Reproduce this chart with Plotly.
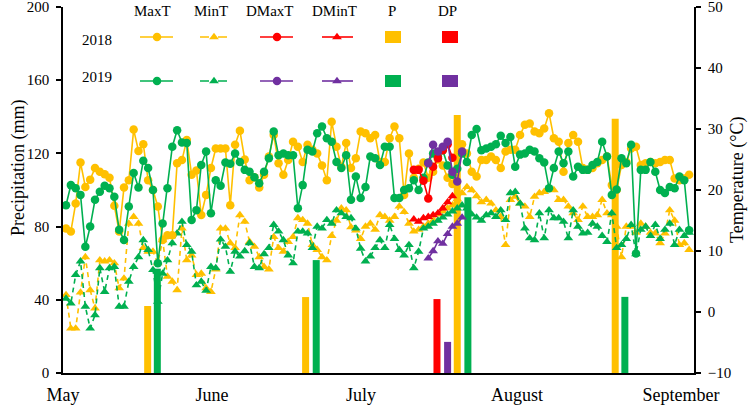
import plotly.graph_objects as go

# ---------------- data ----------------
days = list(range(1, 131))  # day index, May 1 = 1

max_2018 = [13.7, 13.2, 17.8, 24.5, 20.5, 21.7, 23.6, 23.0, 22.6, 22.0, 17.4, 13.2, 20.4, 21.6, 29.9, 26.4, 27.5, 21.6, 20.0, 17.3, 11.8,
            12.6, 12.6, 24.4, 24.9, 28.2, 22.5, 23.2, 15.9, 19.2, 23.6, 26.8, 26.8, 26.8, 17.5, 27.4, 29.7, 25.0, 21.6, 22.1, 20.4, 22.5, 25.5,
            29.0, 24.4, 22.5, 24.9, 27.9, 27.1, 24.6, 27.4, 26.6, 26.0, 24.0, 21.6, 31.2, 27.1, 23.8, 27.7, 23.6, 25.2, 29.6, 29.3, 28.5, 29.0,
            24.6, 24.6, 28.5, 30.4, 28.5, 19.2, 26.0, 22.0, 23.5, 24.5, 22.0, 23.0, 25.0, 24.0, 22.0, 21.0, 25.5, 27.5, 26.0, 23.0, 22.2, 24.9,
            24.9, 25.5, 24.9, 23.6, 26.3, 26.6, 26.6, 29.0, 30.7, 30.9, 29.6, 29.3, 30.1, 32.6, 28.5, 27.9, 23.0, 27.7, 29.0, 27.9, 23.6,
            23.3, 23.6, 24.4, 24.9, 25.5, 20.8, 20.0, 24.1, 24.6, 26.8, 27.1, 24.1, 24.4, 24.6, 24.4, 24.6, 24.9, 24.9, 21.9, 21.6, 21.9, 22.5]

min_2018 = [2.8, -2.7, -2.7, 3.2, 9.0, 3.6, 0.6, 8.5, 8.3, 8.5, 8.0, 3.9, 5.5, 14.5, 15.6, 14.5, 10.5, 9.9, 9.9, 8.0, 11.8,
            5.8, 5.0, 3.6, 13.7, 8.5, 9.3, 6.1, 6.3, 3.9, 3.3, 7.0, 13.7, 13.7, 11.3, 10.5, 15.9, 14.8, 11.5, 10.7, 9.0, 7.4, 7.0,
            12.3, 10.5, 9.9, 11.5, 12.3, 15.4, 15.1, 14.5, 11.0, 10.2, 9.0, 8.5, 12.5, 15.0, 17.0, 16.7, 13.9, 13.4, 12.0, 14.0, 14.5, 13.5,
            15.9, 15.6, 15.0, 15.6, 17.3, 16.4, 14.5, 13.2, 13.5, 14.0, 14.5, 15.0, 16.0, 16.5, 17.0, 17.5, 18.5, 19.5, 20.5, 20.0, 19.0, 18.0,
            18.4, 17.8, 16.7, 15.6, 11.0, 18.4, 18.9, 17.8, 17.3, 15.6, 18.9, 19.5, 19.7, 20.1, 20.0, 18.4, 18.4, 17.3, 16.2, 15.1, 17.3,
            15.6, 15.6, 15.9, 18.4, 16.2, 15.9, 14.0, 9.0, 14.0, 14.0, 13.0, 14.5, 14.0, 13.0, 12.9, 11.3, 12.9, 16.7, 15.0, 11.0, 11.3, 10.2]

max_2019 = [17.5, 20.8, 20.3, 19.2, 10.7, 14.0, 18.4, 19.7, 20.7, 20.3, 18.9, 13.5, 11.8, 17.3, 22.8, 20.4, 24.8, 23.6, 20.0, 8.0, 14.5,
            20.3, 27.1, 29.8, 27.8, 27.7, 15.1, 16.7, 24.1, 26.3, 16.2, 21.6, 20.7, 24.5, 24.3, 26.0, 24.6, 23.3, 23.0, 22.1, 21.1, 23.0, 25.2,
            29.6, 25.7, 26.0, 25.7, 25.7, 17.0, 20.8, 26.6, 26.3, 29.3, 30.4, 28.5, 27.9, 24.6, 23.6, 25.7, 18.4, 22.2, 18.7, 20.5, 25.5,
            25.2, 24.1, 27.1, 27.1, 18.7, 18.7, 20.0, 20.3, 21.6, 20.0, 22.0, 24.5, 26.0, 25.5, 26.5, 24.0, 22.5, 23.5, 26.0, 24.6, 29.0, 30.0, 26.5,
            26.8, 27.1, 27.5, 28.9, 27.7, 28.7, 23.8, 25.8, 26.0, 26.6, 26.3, 25.2, 24.5, 20.3, 23.6, 26.3, 24.4, 26.3, 22.2, 23.8, 23.3,
            23.3, 24.1, 24.6, 27.9, 25.5, 19.2, 20.1, 25.2, 24.4, 27.4, 9.6, 23.3, 23.3, 24.6, 23.0, 20.0, 19.5, 20.5, 20.3, 22.2, 21.6, 13.4]

min_2019 = [2.2, 1.4, 6.1, 8.3, 0.9, -2.7, -0.5, 7.2, 3.3, 7.2, 7.4, 0.9, 0.9, 5.0, 7.4, 9.0, 11.8, 10.2, 6.9, 1.7, 6.3,
            8.5, 11.3, 12.9, 14.8, 11.0, 9.9, 4.4, 5.0, 3.5, 7.4, 7.2, 11.9, 10.7, 6.6, 9.9, 9.1, 10.0, 11.3, 7.4, 7.2, 9.5, 10.5,
            14.3, 13.2, 11.8, 9.3, 8.0, 13.2, 13.2, 12.9, 10.5, 14.0, 13.7, 15.1, 14.5, 16.7, 16.2, 15.6, 15.4, 13.7, 10.4, 8.3, 9.1, 10.5,
            11.8, 10.5, 14.3, 12.0, 10.2, 9.3, 11.0, 7.2, 9.9, 13.7, 14.0, 14.5, 15.0, 15.5, 16.0, 16.5, 17.0, 17.5, 17.0, 16.0, 15.5, 15.0,
            15.9, 16.2, 15.6, 16.7, 15.1, 19.5, 19.7, 17.8, 13.7, 12.1, 11.8, 16.2, 12.1, 16.7, 15.4, 15.4, 14.8, 12.1, 16.7, 14.0, 12.9,
            13.0, 14.5, 14.0, 12.5, 11.5, 16.2, 10.5, 11.0, 12.0, 14.3, 9.5, 13.5, 14.0, 12.5, 14.3, 12.0, 13.5, 14.5, 11.0, 13.5, 12.5, 13.0]

d2018_days = [73, 74, 75, 76, 77, 78, 79, 80, 81]
dmax_2018 = [23.3, 23.3, 21.5, 18.6, 23.8, 25.2, 26.5, 27.5, 25.3]
dmin_2018 = [15.2, 14.8, 15.4, 15.6, 15.9, 16.2, 17.0, 18.0, 19.0]

d2019_days = [76, 77, 78, 79, 80, 81, 82, 83]
dmax_2019 = [24.4, 27.4, 26.3, 27.1, 27.9, 23.0, 21.4, 26.3]
dmin_2019 = [8.8, 10.0, 11.6, 11.2, 12.8, 14.0, 14.5, 15.5]

p2018_days = [17.9, 50.6, 82.0, 114.7]
p2018 = [36.6, 41.5, 141.0, 139.0]
p2019_days = [19.9, 52.8, 84.2, 116.7]
p2019 = [57.0, 61.7, 96.0, 41.6]
dp2018_days = [77.8]
dp2018 = [40.4]
dp2019_days = [80.0]
dp2019 = [17.0]

month_labels = ["May", "June", "July", "August", "September"]
month_px = [63, 212, 361, 517, 681]

# ---------------- styling ----------------
W, H = 752, 407
YEL, GRN, RED, PUR = '#FFC000', '#00B050', '#FF0000', '#7030A0'
FONT = 'Liberation Serif, Times New Roman, serif'


def dx(px):
    return (px - 61.2) / 4.83


def fx(px):
    return px / W


def fy(py):
    return 1 - py / H


fig = go.Figure()

for xs, ys, c in [(p2018_days, p2018, YEL), (p2019_days, p2019, GRN),
                  (dp2018_days, dp2018, RED), (dp2019_days, dp2019, PUR)]:
    fig.add_trace(go.Bar(x=xs, y=ys, width=1.45, marker=dict(color=c, line=dict(width=0)),
                         xaxis='x', yaxis='y'))

DASH = '5px,4px'


def add_line(xs, ys, color, sym, dash):
    fig.add_trace(go.Scatter(x=xs, y=ys, mode='lines+markers',
                             line=dict(color=color, width=1.6, dash=dash),
                             marker=dict(symbol=sym, size=8.5, color=color),
                             xaxis='x', yaxis='y2', cliponaxis=False))


add_line(days, min_2018, YEL, 'triangle-up', DASH)
add_line(days, min_2019, GRN, 'triangle-up', DASH)
add_line(days, max_2018, YEL, 'circle', 'solid')
add_line(days, max_2019, GRN, 'circle', 'solid')
add_line(d2018_days, dmin_2018, RED, 'triangle-up', 'solid')
add_line(d2018_days, dmax_2018, RED, 'circle', 'solid')
add_line(d2019_days, dmin_2019, PUR, 'triangle-up', 'solid')
add_line(d2019_days, dmax_2019, PUR, 'circle', 'solid')

# ---------------- custom legend ----------------
shapes = []
annotations = []
rows = [(37, [YEL, YEL, RED, RED, YEL, RED]), (81, [GRN, GRN, PUR, PUR, GRN, PUR])]
line_spans = [(140, 173), (200, 228), (260, 293), (322, 353)]
mk_x = [157, 214, 277, 337]
mk_sym = ['circle', 'triangle-up', 'circle', 'triangle-up']
mk_dash = ['solid', 'dash', 'solid', 'solid']
lx, ly, lc, ls = [], [], [], []
for yrow, cols in rows:
    for i, (a, b) in enumerate(line_spans):
        shapes.append(dict(type='line', xref='paper', yref='paper', x0=fx(a), x1=fx(b),
                           y0=fy(yrow), y1=fy(yrow),
                           line=dict(color=cols[i], width=1.6, dash=mk_dash[i])))
        lx.append(mk_x[i]); ly.append(yrow); lc.append(cols[i]); ls.append(mk_sym[i])
    for i, (a, b) in enumerate([(385, 401), (442, 458)]):
        shapes.append(dict(type='rect', xref='paper', yref='paper', x0=fx(a), x1=fx(b),
                           y0=fy(yrow - 6), y1=fy(yrow + 6), fillcolor=cols[4 + i],
                           line=dict(width=0)))

fig.add_trace(go.Scatter(x=lx, y=ly, mode='markers', xaxis='x3', yaxis='y3',
                         marker=dict(symbol=ls, color=lc, size=8.5), cliponaxis=False))

headers = [("MaxT", 152), ("MinT", 211), ("DMaxT", 270), ("DMinT", 334), ("P", 392), ("DP", 447)]
for t, x in headers:
    annotations.append(dict(text=t, x=fx(x), y=fy(11), xref='paper', yref='paper',
                            showarrow=False, font=dict(family=FONT, size=15, color='black'),
                            xanchor='center', yanchor='middle'))
for t, y in [("2018", 40), ("2019", 77)]:
    annotations.append(dict(text=t, x=fx(97), y=fy(y), xref='paper', yref='paper',
                            showarrow=False, font=dict(family=FONT, size=15, color='black'),
                            xanchor='center', yanchor='middle'))

annotations.append(dict(text="Precipitation (mm)", x=fx(18), y=fy(168), xref='paper', yref='paper',
                        showarrow=False, textangle=-90, font=dict(family=FONT, size=18, color='black'),
                        xanchor='center', yanchor='middle'))
annotations.append(dict(text="Temperature (°C)", x=fx(737), y=fy(180), xref='paper', yref='paper',
                        showarrow=False, textangle=-90, font=dict(family=FONT, size=18, color='black'),
                        xanchor='center', yanchor='middle'))

axis_common = dict(showgrid=False, zeroline=False, showline=True, linecolor='black', linewidth=1.5,
                   ticklabeloverflow='allow')

fig.update_layout(
    template='none',
    width=W, height=H,
    margin=dict(l=0, r=0, t=0, b=0),
    paper_bgcolor='white', plot_bgcolor='rgba(0,0,0,0)',
    showlegend=False, barmode='overlay',
    xaxis=dict(domain=[63 / W, 694 / W], range=[dx(63), dx(694)], anchor='y',
               tickmode='array', tickvals=[dx(p) for p in month_px], ticktext=month_labels,
               ticks='outside', ticklen=5, tickcolor='rgba(0,0,0,0)',
               tickfont=dict(family=FONT, size=18, color='black'), **axis_common),
    yaxis=dict(domain=[(H - 373) / H, (H - 7) / H], range=[0, 200], dtick=40, anchor='x',
               ticks='outside', ticklen=5, tickwidth=1.5, tickcolor='black', ticklabelstandoff=4,
               tickfont=dict(family=FONT, size=15, color='black'), **axis_common),
    yaxis2=dict(overlaying='y', side='right', anchor='x', range=[-10, 50], dtick=10,
                ticks='outside', ticklen=5, tickwidth=1.5, tickcolor='black', ticklabelstandoff=4,
                tickfont=dict(family=FONT, size=15, color='black'), **axis_common),
    xaxis3=dict(domain=[0, 1], range=[0, W], anchor='y3', visible=False, fixedrange=True),
    yaxis3=dict(domain=[0, 1], range=[H, 0], anchor='x3', visible=False, fixedrange=True),
    shapes=shapes,
    annotations=annotations,
)

fig.write_html("out.html", config={'displayModeBar': False},
               post_script="document.body.style.margin='0px';document.body.style.overflow='hidden';")
